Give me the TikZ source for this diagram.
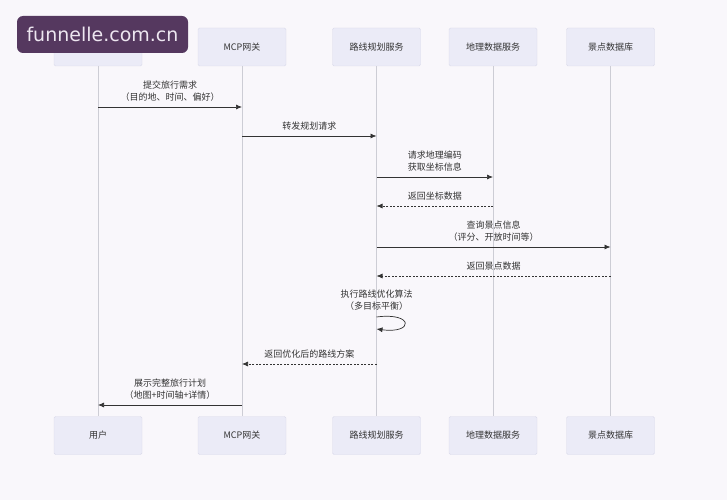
\documentclass[tikz,border=0pt]{standalone}
\usepackage{fontspec}
\usetikzlibrary{arrows.meta}
\setmainfont{Noto Sans CJK SC}
\newfontfamily\wmfont{DejaVu Sans}
\definecolor{paper}{HTML}{F9F7FB}
\definecolor{boxfill}{HTML}{EBEBF7}
\definecolor{boxline}{HTML}{DADAEA}
\definecolor{lifeline}{HTML}{CDCDD5}
\definecolor{ink}{HTML}{333333}
\definecolor{wmbg}{HTML}{55385F}
\definecolor{wmtext}{HTML}{EDE6F0}

\begin{document}
\begin{tikzpicture}[x=1pt, y=-1pt, font=\fontsize{9}{12}\selectfont, text=ink,
  actor/.style={draw=boxline, fill=boxfill, minimum width=88pt, minimum height=38pt, rounded corners=1.5pt},
  life/.style={draw=lifeline, line width=0.6pt},
  call/.style={draw=ink, line width=0.7pt, -{Latex[length=6pt,width=5pt]}},
  reply/.style={call, dash pattern=on 2pt off 1.5pt},
  msg/.style={align=center, above=2pt}]
\fill[paper] (0,0) rectangle (727,500); % background
\useasboundingbox (0,0) rectangle (727,500);
% participants, top row
\node[actor] (ut) at (98,47) {用户};
\node[actor] (gt) at (242,47) {MCP网关};
\node[actor] (rt) at (376.5,47) {路线规划服务};
\node[actor] (dt) at (493,47) {地理数据服务};
\node[actor] (st) at (610.5,47) {景点数据库};
% participants, bottom row
\node[actor] (ub) at (98,435.5) {用户};
\node[actor] (gb) at (242,435.5) {MCP网关};
\node[actor] (rb) at (376.5,435.5) {路线规划服务};
\node[actor] (db) at (493,435.5) {地理数据服务};
\node[actor] (sb) at (610.5,435.5) {景点数据库};
\foreach \p in {u,g,r,d,s} \draw[life] (\p t) -- (\p b); % lifelines
% messages
\draw[call] (ut.south |- 0,107) -- node[msg] {提交旅行需求\\（目的地、时间、偏好）} (gt.south |- 0,107);
\draw[call] (gt.south |- 0,136) -- node[msg] {转发规划请求} (rt.south |- 0,136);
\draw[call] (rt.south |- 0,177) -- node[msg] {请求地理编码\\获取坐标信息} (dt.south |- 0,177);
\draw[reply] (dt.south |- 0,206) -- node[msg] {返回坐标数据} (rt.south |- 0,206);
\draw[call] (rt.south |- 0,247) -- node[msg] {查询景点信息\\（评分、开放时间等）} (st.south |- 0,247);
\draw[reply] (st.south |- 0,276) -- node[msg] {返回景点数据} (rt.south |- 0,276);
\node[align=center] (opt) at (rt.south |- 0,300) {执行路线优化算法\\（多目标平衡）};
\draw[call] (rt.south |- 0,317) .. controls (414,312) and (414,334) .. (rt.south |- 0,329); % self call
\draw[reply] (rt.south |- 0,364) -- node[msg] {返回优化后的路线方案} (gt.south |- 0,364);
\draw[call] (gt.south |- 0,405) -- node[msg] {展示完整旅行计划\\（地图+时间轴+详情）} (ut.south |- 0,405);
% watermark
\node[fill=wmbg, rounded corners=6pt, text=wmtext, font=\wmfont\fontsize{19}{19}\selectfont, minimum width=171pt, minimum height=37pt] (mark) at (102.5,34.5) {funnelle.com.cn};
\end{tikzpicture}
\end{document}
